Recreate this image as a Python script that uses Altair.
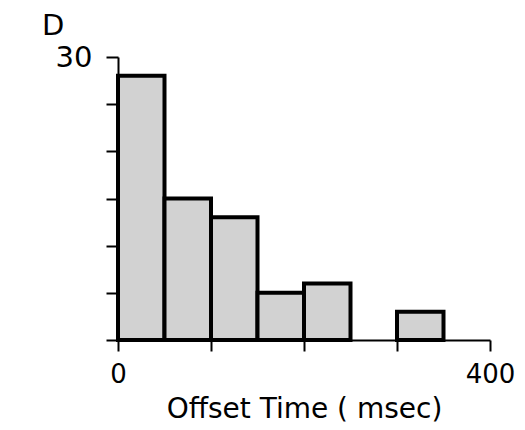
import altair as alt
import pandas as pd

# Histogram of offset times, 50 msec bins
bin_start = [0, 50, 100, 150, 200, 300]
bin_end = [50, 100, 150, 200, 250, 350]
counts = [28, 15, 13, 5, 6, 3]

y_ticks = [0, 5, 10, 15, 20, 25, 30]
x_ticks = [0, 100, 200, 300, 400]

df = pd.DataFrame({"start": bin_start, "end": bin_end, "count": counts})

FONT = "DejaVu Sans"

bars = alt.Chart(df).mark_bar(
    fill="#d2d2d2", stroke="black", strokeWidth=4, strokeJoin="miter"
).encode(
    x=alt.X(
        "start:Q",
        scale=alt.Scale(domain=[0, 400], nice=False, zero=True),
        axis=alt.Axis(
            values=x_ticks,
            labelExpr="datum.value == 0 || datum.value == 400 ? datum.label : ''",
            title="Offset Time ( msec)",
            grid=False,
            domainColor="black",
            domainWidth=2,
            tickColor="black",
            tickWidth=2,
            tickSize=11,
            labelFontSize=26,
            labelFont=FONT,
            labelColor="black",
            labelPadding=10,
            labelFlush=False,
            titleFontSize=28,
            titleFont=FONT,
            titleFontWeight="normal",
            titleColor="black",
            titlePadding=8,
        ),
    ),
    x2="end:Q",
    y=alt.Y(
        "count:Q",
        scale=alt.Scale(domain=[0, 30], nice=False),
        axis=alt.Axis(
            values=y_ticks,
            labelExpr="datum.value == 30 ? datum.label : ''",
            title=None,
            grid=False,
            domainColor="black",
            domainWidth=2,
            tickColor="black",
            tickWidth=2,
            tickSize=12,
            labelFontSize=29,
            labelFont=FONT,
            labelColor="black",
            labelPadding=14,
            labelFlush=False,
        ),
    ),
    y2=alt.datum(0),
)

chart = bars.properties(
    width=372,
    height=283,
    background="white",
    title=alt.TitleParams(
        "D",
        anchor="start",
        frame="group",
        dx=-76,
        offset=2,
        fontSize=29,
        font=FONT,
        fontWeight="normal",
        color="black",
    ),
    autosize=alt.AutoSizeParams(type="none"),
    padding={"left": 118, "top": 57, "right": 35, "bottom": 90},
).configure_view(strokeWidth=0, stroke=None)

chart.save("out.html", embed_options={"renderer": "svg", "actions": False})
